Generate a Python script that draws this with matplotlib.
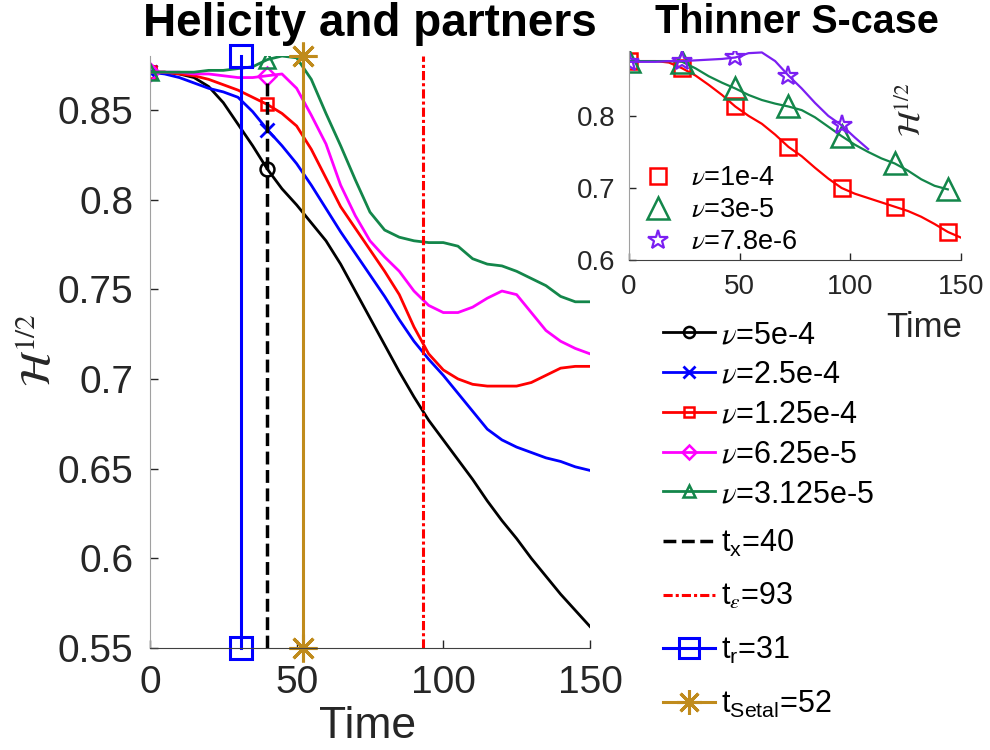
import matplotlib
matplotlib.use('Agg')
import matplotlib.pyplot as plt
from matplotlib.lines import Line2D
import numpy as np

plt.rcParams['font.family'] = ['Liberation Sans', 'DejaVu Sans']
plt.rcParams['mathtext.fontset'] = 'stix'

# main panel: helicity^(1/2) vs time, sampled every 5 time units
t_main = np.arange(0, 151, 5)
h_5e4 = [0.871, 0.871, 0.870, 0.868, 0.863, 0.854, 0.842, 0.830, 0.817, 0.806, 0.797,
         0.787, 0.777, 0.764, 0.749, 0.734, 0.719, 0.704, 0.690, 0.677, 0.666,
         0.655, 0.644, 0.632, 0.621, 0.611, 0.600, 0.590, 0.580, 0.571, 0.562]
h_25e5 = [0.871, 0.870, 0.868, 0.865, 0.862, 0.860, 0.857, 0.849, 0.839, 0.830, 0.820,
          0.808, 0.795, 0.782, 0.770, 0.758, 0.746, 0.733, 0.721, 0.711, 0.702,
          0.692, 0.682, 0.672, 0.666, 0.662, 0.659, 0.656, 0.654, 0.651, 0.649]
h_125e4 = [0.871, 0.871, 0.870, 0.869, 0.867, 0.864, 0.861, 0.857, 0.853, 0.848, 0.841,
           0.828, 0.812, 0.796, 0.784, 0.772, 0.760, 0.747, 0.729, 0.714, 0.705,
           0.700, 0.697, 0.696, 0.696, 0.696, 0.698, 0.702, 0.706, 0.707, 0.707]
h_625e5 = [0.871, 0.871, 0.871, 0.870, 0.870, 0.869, 0.868, 0.868, 0.869, 0.870, 0.862,
           0.847, 0.831, 0.808, 0.791, 0.777, 0.768, 0.760, 0.749, 0.741, 0.737,
           0.737, 0.740, 0.745, 0.749, 0.747, 0.737, 0.727, 0.721, 0.717, 0.714]
h_3125e5 = [0.871, 0.871, 0.871, 0.871, 0.872, 0.872, 0.873, 0.874, 0.878, 0.880, 0.879,
            0.867, 0.848, 0.830, 0.811, 0.793, 0.783, 0.779, 0.777, 0.776, 0.776,
            0.774, 0.767, 0.764, 0.763, 0.760, 0.756, 0.752, 0.746, 0.743, 0.743]

t_x, t_eps, t_r, t_setal = 40, 93, 31, 52

# inset: thinner S-case, sampled every 6 time units
t_in = np.arange(0, 151, 6)
s_1e4 = [0.876, 0.876, 0.876, 0.874, 0.866, 0.856, 0.843, 0.829, 0.813, 0.800, 0.789,
         0.774, 0.757, 0.744, 0.728, 0.713, 0.700, 0.692, 0.686, 0.680, 0.674,
         0.668, 0.660, 0.650, 0.639, 0.631]
s_3e5 = [0.876, 0.876, 0.876, 0.876, 0.875, 0.866, 0.855, 0.846, 0.838, 0.829, 0.822,
         0.817, 0.813, 0.808, 0.798, 0.785, 0.772, 0.760, 0.750, 0.741, 0.734,
         0.724, 0.712, 0.703, 0.698]
s_78e6 = [0.875, 0.875, 0.875, 0.876, 0.876, 0.877, 0.878, 0.879, 0.881, 0.887, 0.888,
          0.876, 0.856, 0.838, 0.818, 0.800, 0.787, 0.770, 0.754]

green = '#13864a'
gold = '#c08b1c'
purple = '#7b1ff2'
tick_col = '#262626'

fig = plt.figure(figsize=(9.9, 7.5), dpi=100)
ax = fig.add_axes([0.1515, 0.136, 0.4444, 0.7893])

lw = 2.0
mk = [0, 8]
ax.plot(t_main, h_5e4, color='k', lw=lw, marker='o', ms=10, mfc='none', mew=1.8, markevery=mk)
ax.plot(t_main, h_25e5, color='b', lw=lw, marker='x', ms=10, mew=2, markevery=mk)
ax.plot(t_main, h_125e4, color='r', lw=lw, marker='s', ms=9, mfc='none', mew=1.8, markevery=mk)
ax.plot(t_main, h_625e5, color='#ff00ff', lw=lw, marker='D', ms=9, mfc='none', mew=1.8, markevery=mk)
ax.plot(t_main, h_3125e5, color=green, lw=lw, marker='^', ms=11, mfc='none', mew=1.8, markevery=mk)

ax.plot([t_x, t_x], [0.55, 0.867], 'k--', lw=2.5)
ax.plot([t_eps, t_eps], [0.55, 0.88], color='r', lw=2.2, ls=(0, (3, 1, 1, 1)))
ax.plot([t_r, t_r], [0.55, 0.88], color='b', lw=2.2, marker='s', ms=16, mfc='none', mew=2.2,
        clip_on=False)
ax.plot([t_setal, t_setal], [0.55, 0.88], color=gold, lw=2.2, marker=(8, 2, 0), ms=20, mew=2.2,
        clip_on=False)

ax.set_xlim(0, 150)
ax.set_ylim(0.55, 0.88)
ax.set_xticks([0, 50, 100, 150])
ax.set_yticks([0.55, 0.6, 0.65, 0.7, 0.75, 0.8, 0.85])
ax.set_yticklabels(['0.55', '0.6', '0.65', '0.7', '0.75', '0.8', '0.85'])
ax.tick_params(direction='in', length=6, width=1, labelsize=28, colors=tick_col, pad=12)
for s in ['top', 'right']:
    ax.spines[s].set_visible(False)
ax.spines['left'].set_color('#a0a0a0')
ax.spines['bottom'].set_color('#404040')

fig.text(368 / 990, 1 - 738 / 750, 'Time', fontsize=32, color=tick_col, ha='center', va='baseline')
fig.text(40 / 990, 1 - 350 / 750, r'$\mathcal{H}^{1/2}$', fontsize=30, color=tick_col,
         rotation=90, ha='center', va='center')
fig.text(370 / 990, 1 - 36 / 750, 'Helicity and partners', fontsize=33, fontweight='bold',
         ha='center', va='baseline')

# legend for the viscosity runs
nu_handles = [
    Line2D([], [], color='k', lw=lw, marker='o', ms=8, mfc='none', mew=1.8),
    Line2D([], [], color='b', lw=lw, marker='x', ms=8, mew=2),
    Line2D([], [], color='r', lw=lw, marker='s', ms=7, mfc='none', mew=1.8),
    Line2D([], [], color='#ff00ff', lw=lw, marker='D', ms=7, mfc='none', mew=1.8),
    Line2D([], [], color=green, lw=lw, marker='^', ms=9, mfc='none', mew=1.8),
]
nu_labels = [r'$\nu$=5e-4', r'$\nu$=2.5e-4', r'$\nu$=1.25e-4', r'$\nu$=6.25e-5', r'$\nu$=3.125e-5']
fig.legend(nu_handles, nu_labels, loc='upper left', bbox_to_anchor=(663 / 990, 1 - 320 / 750),
           frameon=False, fontsize=22, handlelength=1.7, handletextpad=0.19, labelspacing=0.32,
           borderpad=0, borderaxespad=0)

# legend for the characteristic times
t_handles = [
    Line2D([], [], color='k', lw=2.5, ls='--'),
    Line2D([], [], color='r', lw=2.2, ls=(0, (3, 1, 1, 1))),
    Line2D([], [], color='b', lw=2.2, marker='s', ms=14, mfc='none', mew=2.2),
    Line2D([], [], color=gold, lw=2.2, marker=(8, 2, 0), ms=18, mew=2.2),
]
t_labels = [r'$\mathregular{t_x}$=40', r'$\mathregular{t}_\epsilon$=93', r'$\mathregular{t_r}$=31',
            r'$\mathregular{t_{Setal}}$=52']
fig.legend(t_handles, t_labels, loc='upper left', bbox_to_anchor=(663 / 990, 1 - 528 / 750),
           frameon=False, fontsize=22, handlelength=1.7, handletextpad=0.19, labelspacing=0.75,
           borderpad=0, borderaxespad=0)

# inset
ax2 = fig.add_axes([0.6354, 0.6533, 0.3354, 0.2787])
ax2.plot(t_in, s_1e4, color='r', lw=1.6, marker='s', ms=12, mfc='none', mew=1.8, markevery=4)
ax2.plot(t_in[:len(s_3e5)], s_3e5, color=green, lw=1.6, marker='^', ms=16, mfc='none', mew=1.8,
         markevery=4)
ax2.plot(t_in[:len(s_78e6)], s_78e6, color=purple, lw=1.6, marker='*', ms=15, mfc='none', mew=1.6,
         markevery=4)
ax2.set_xlim(0, 150)
ax2.set_ylim(0.6, 0.89)
ax2.set_xticks([0, 50, 100, 150])
ax2.set_yticks([0.6, 0.7, 0.8])
ax2.set_yticklabels(['0.6', '0.7', '0.8'])
ax2.tick_params(direction='in', length=5, width=1, labelsize=20, colors=tick_col, pad=10)
for s in ['top', 'right']:
    ax2.spines[s].set_visible(False)
ax2.spines['left'].set_color('#a0a0a0')
ax2.spines['bottom'].set_color('#404040')

fig.text(962 / 990, 1 - 337 / 750, 'Time', fontsize=25, color=tick_col, ha='right', va='baseline')
fig.text(912 / 990, 1 - 110 / 750, r'$\mathcal{H}^{1/2}$', fontsize=22, color=tick_col,
         rotation=90, ha='center', va='center')
fig.text(797 / 990, 1 - 33 / 750, 'Thinner S-case', fontsize=28.5, fontweight='bold',
         ha='center', va='baseline')

in_handles = [
    Line2D([], [], color='r', ls='none', marker='s', ms=12, mfc='none', mew=1.8),
    Line2D([], [], color=green, ls='none', marker='^', ms=16, mfc='none', mew=1.8),
    Line2D([], [], color=purple, ls='none', marker='*', ms=15, mfc='none', mew=1.6),
]
in_labels = [r'$\nu$=1e-4', r'$\nu$=3e-5', r'$\nu$=7.8e-6']
fig.legend(in_handles, in_labels, loc='upper left', bbox_to_anchor=(644 / 990, 1 - 165 / 750),
           frameon=False, fontsize=19.5, handlelength=1.0, handletextpad=0.75, labelspacing=0.23,
           borderpad=0, borderaxespad=0)

fig.savefig('out.png', dpi=100)
